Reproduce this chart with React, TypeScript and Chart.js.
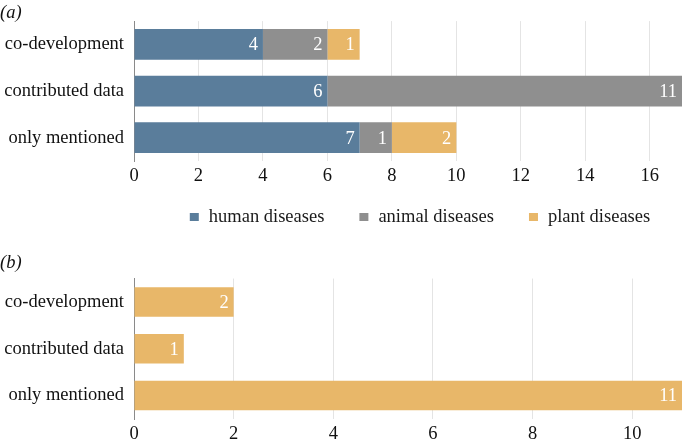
import React, { useEffect, useRef } from "react";
import { Chart, registerables } from "chart.js";

Chart.register(...registerables);

const categories = ["co-development", "contributed data", "only mentioned"];
const humanA = [4, 6, 7];
const animalA = [2, 11, 1];
const plantA = [1, 0, 2];
const plantB = [2, 1, 11];
const seriesNames = ["human diseases", "animal diseases", "plant diseases"];
const colors = ["#5a7d9b", "#8f8f8f", "#e8b769"];

const FONT = "'Liberation Serif', 'Times New Roman', serif";
const FS = 18.5;

const labelPlugin = {
  id: "barLabels",
  afterDatasetsDraw(chart: any) {
    const ctx = chart.ctx;
    ctx.save();
    ctx.font = `${FS}px ${FONT}`;
    ctx.fillStyle = "#ffffff";
    ctx.textAlign = "right";
    ctx.textBaseline = "middle";
    chart.data.datasets.forEach((ds: any, di: number) => {
      const meta = chart.getDatasetMeta(di);
      meta.data.forEach((bar: any, i: number) => {
        const v = ds.data[i];
        if (!v) return;
        ctx.fillText(String(v), bar.x - 5, bar.y + 1);
      });
    });
    ctx.restore();
  },
};

const legendPlugin = {
  id: "customLegend",
  afterDraw(chart: any, _args: any, opts: any) {
    if (!opts || !opts.show) return;
    const ctx = chart.ctx;
    ctx.save();
    ctx.font = `${FS}px ${FONT}`;
    ctx.textBaseline = "middle";
    ctx.textAlign = "left";
    const box = 9;
    const gapBox = 10;
    const gapItem = 35;
    const items = chart.data.datasets.map((ds: any) => ({
      text: ds.label,
      color: ds.backgroundColor,
      w: box + gapBox + ctx.measureText(ds.label).width,
    }));
    const total = items.reduce((s: number, it: any) => s + it.w, 0) + gapItem * (items.length - 1);
    const area = chart.chartArea;
    const cx = (area.left + area.right) / 2 + 12;
    let x = cx - total / 2;
    const y = area.bottom + 56;
    items.forEach((it: any) => {
      ctx.fillStyle = it.color;
      ctx.fillRect(x, y - 4, box, 8);
      ctx.fillStyle = "#1a1a1a";
      ctx.fillText(it.text, x + box + gapBox, y);
      x += it.w + gapItem;
    });
    ctx.restore();
  },
};

function makeOptions(max: number, title: string, showLegend: boolean, bottomPad: number, titlePad: any) {
  return {
    animation: false,
    responsive: false,
    indexAxis: "y",
    layout: { padding: { left: 0, right: 8, top: 0, bottom: bottomPad } },
    plugins: {
      title: {
        display: true,
        text: title,
        align: "start",
        color: "#111",
        font: { family: FONT, size: FS, style: "italic", weight: "normal", lineHeight: 1.1 },
        padding: titlePad,
      },
      legend: { display: false },
      customLegend: { show: showLegend },
      tooltip: { enabled: false },
    },
    scales: {
      x: {
        stacked: true,
        min: 0,
        max,
        ticks: {
          stepSize: 2,
          includeBounds: false,
          color: "#111",
          font: { family: FONT, size: FS },
          padding: 4,
        },
        grid: { color: "#e4e4e4", drawTicks: false },
        border: { display: false },
        afterFit(scale: any) {
          scale.height = 25;
        },
      },
      y: {
        stacked: true,
        ticks: { color: "#111", font: { family: FONT, size: FS }, padding: 10 },
        grid: { display: false, drawTicks: false },
        border: { display: true, color: "#8a8a8a", width: 1 },
        afterFit(scale: any) {
          scale.width = 134;
        },
      },
    },
  };
}

function ChartCanvas({ config, width, height }: any) {
  const ref = useRef<HTMLCanvasElement>(null);
  useEffect(() => {
    const chart = new Chart(ref.current as HTMLCanvasElement, config);
    return () => chart.destroy();
  }, []);
  return <canvas ref={ref} width={width} height={height} style={{ display: "block", width, height }} />;
}

export default function App() {
  const configA: any = {
    type: "bar",
    data: {
      labels: categories,
      datasets: [
        { label: seriesNames[0], data: humanA, backgroundColor: colors[0], categoryPercentage: 1, barPercentage: 0.66 },
        { label: seriesNames[1], data: animalA, backgroundColor: colors[1], categoryPercentage: 1, barPercentage: 0.66 },
        { label: seriesNames[2], data: plantA, backgroundColor: colors[2], categoryPercentage: 1, barPercentage: 0.66 },
      ],
    },
    options: makeOptions(17, "(a)", true, 54, { top: 2, bottom: -1.8 }),
    plugins: [labelPlugin, legendPlugin],
  };
  const configB: any = {
    type: "bar",
    data: {
      labels: categories,
      datasets: [
        { label: seriesNames[2], data: plantB, backgroundColor: colors[2], categoryPercentage: 1, barPercentage: 0.63 },
      ],
    },
    options: makeOptions(11, "(b)", false, 0, { top: 13, bottom: 5.2 }),
    plugins: [labelPlugin, legendPlugin],
  };
  return (
    <div style={{ position: "absolute", left: 0, top: 0, width: 690, height: 444, background: "#fff" }}>
      <ChartCanvas config={configA} width={690} height={240} />
      <ChartCanvas config={configB} width={690} height={204} />
    </div>
  );
}
